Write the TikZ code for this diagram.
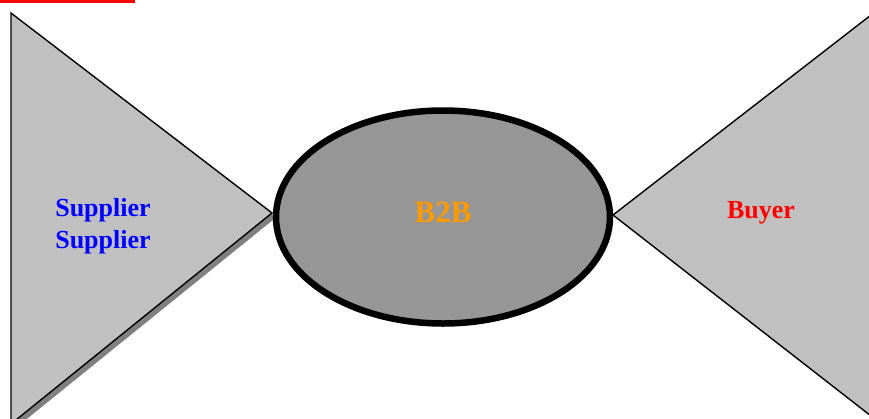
\documentclass[tikz,border=0pt]{standalone}
\usepackage{fontspec}
\setmainfont{Liberation Serif}
\usetikzlibrary{shapes.geometric}
\definecolor{trigray}{RGB}{192,192,192}
\definecolor{ellgray}{RGB}{150,150,150}
\definecolor{shadowgray}{RGB}{128,128,128}
\definecolor{borange}{RGB}{255,153,0}
\tikzset{
  wing/.style={fill=trigray, draw=black, line width=1.4pt, line join=miter},
  wingshadow/.style={fill=shadowgray},
  hub/.style={ellipse, draw=black, fill=ellgray, line width=6.5pt, minimum width=334pt, minimum height=213pt, inner sep=0pt},
  lbl/.style={font=\bfseries\fontsize{26}{32}\selectfont, align=center, inner sep=0pt}
}
\begin{document}
\begin{tikzpicture}[x=1pt,y=-1pt]
\useasboundingbox (0,0) rectangle (869,418);
\clip (0,0) rectangle (869,418);
% top red bar
\fill[red] (0,0) rectangle (135,2.5);
% coordinates
\coordinate (ltop) at (11,13);
\coordinate (lapex) at (272,213);
\coordinate (lbot) at (11,424);
\coordinate (rapex) at (613,215);
\coordinate (rtop) at (880,8);
\coordinate (rbot) at (880,423);
% left wing shadow and wing
\fill[wingshadow] ([shift={(4,4.5)}]ltop) -- ([shift={(4,4.5)}]lapex) -- ([shift={(4,4.5)}]lbot) -- cycle;
\draw[wing] (ltop) -- (lapex) -- (lbot) -- cycle;
% right wing
\draw[wing] (rtop) -- (rapex) -- (rbot) -- cycle;
% hub
\node[hub] (hub) at (443,217) {};
% labels
\node[lbl, text=blue] (supp) at (103,226) {Supplier\\Supplier};
\node[lbl, text=borange, font=\bfseries\fontsize{31}{36}\selectfont] (b2b) at (443,212) {B2B};
\node[lbl, text=red] (buyer) at (761,213) {Buyer};
\end{tikzpicture}
\end{document}
